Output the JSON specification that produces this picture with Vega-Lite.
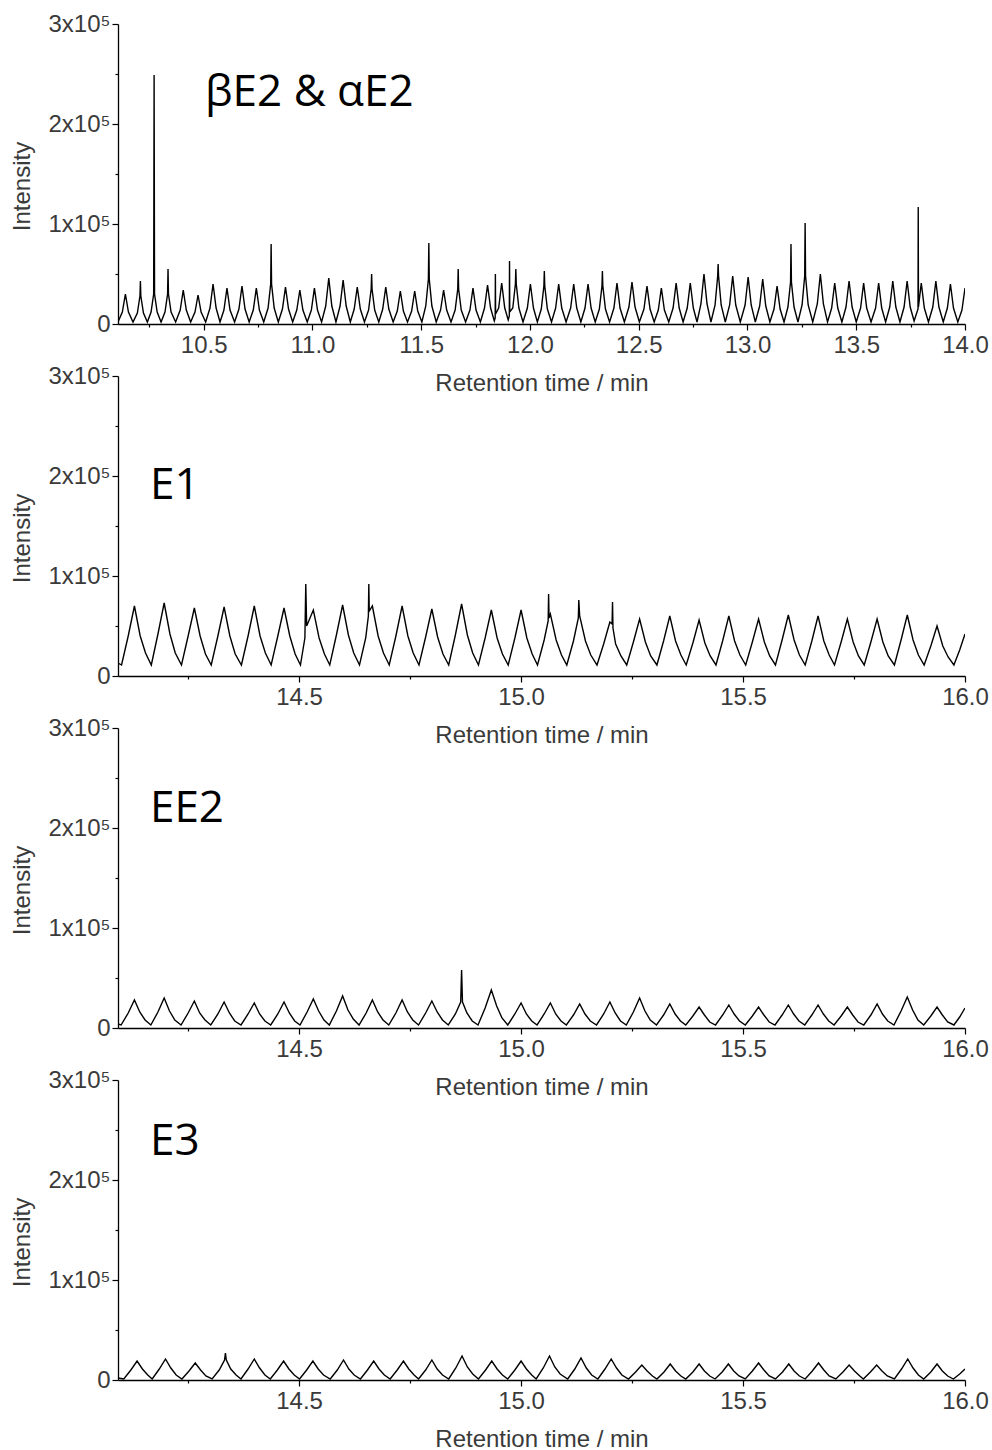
{
"$schema":"https://vega.github.io/schema/vega-lite/v6.json",
"background":"white",
"padding":{"left":10,"top":12,"right":5,"bottom":0},
"bounds":"flush",
"spacing":52,
"config":{"view":{"stroke":null},"axis":{"grid":false,"domainColor":"black","domainWidth":1.3,"tickColor":"black","tickWidth":1.2,"labelFont":"Liberation Sans","labelFontSize":24,"labelColor":"#3a3a3a","titleFont":"Liberation Sans","titleFontSize":24,"titleFontWeight":"normal","titleColor":"#3a3a3a"}},
"datasets":{
"p1":[{"t":10.106,"k":2},{"t":10.126,"k":12},{"t":10.140,"k":30},{"t":10.154,"k":12},{"t":10.175,"k":2},
{"t":10.195,"k":11},{"t":10.207,"k":28},{"t":10.209,"k":43},{"t":10.211,"k":28},{"t":10.223,"k":11},{"t":10.241,"k":2},
{"t":10.258,"k":12},{"t":10.270,"k":30},{"t":10.272,"k":249},{"t":10.274,"k":30},{"t":10.286,"k":12},{"t":10.304,"k":2},
{"t":10.322,"k":12},{"t":10.334,"k":30},{"t":10.336,"k":55},{"t":10.338,"k":30},{"t":10.350,"k":12},{"t":10.371,"k":2},
{"t":10.392,"k":14},{"t":10.406,"k":34},{"t":10.420,"k":14},{"t":10.440,"k":2},
{"t":10.460,"k":12},{"t":10.474,"k":29},{"t":10.488,"k":12},{"t":10.509,"k":2},
{"t":10.529,"k":16},{"t":10.543,"k":40},{"t":10.557,"k":16},{"t":10.575,"k":2},
{"t":10.593,"k":14},{"t":10.607,"k":36},{"t":10.621,"k":14},{"t":10.642,"k":2},
{"t":10.662,"k":15},{"t":10.676,"k":38},{"t":10.690,"k":15},{"t":10.709,"k":2},
{"t":10.728,"k":14},{"t":10.742,"k":36},{"t":10.756,"k":14},{"t":10.776,"k":2},
{"t":10.796,"k":16},{"t":10.808,"k":40},{"t":10.810,"k":80},{"t":10.812,"k":40},{"t":10.824,"k":16},{"t":10.843,"k":2},
{"t":10.862,"k":15},{"t":10.876,"k":37},{"t":10.890,"k":15},{"t":10.909,"k":2},
{"t":10.928,"k":14},{"t":10.942,"k":34},{"t":10.956,"k":14},{"t":10.976,"k":2},
{"t":10.995,"k":14},{"t":11.009,"k":36},{"t":11.023,"k":14},{"t":11.042,"k":2},
{"t":11.061,"k":18},{"t":11.075,"k":46},{"t":11.089,"k":18},{"t":11.108,"k":2},
{"t":11.127,"k":18},{"t":11.141,"k":44},{"t":11.155,"k":18},{"t":11.174,"k":2},
{"t":11.192,"k":15},{"t":11.206,"k":37},{"t":11.220,"k":15},{"t":11.239,"k":2},
{"t":11.258,"k":14},{"t":11.270,"k":35},{"t":11.272,"k":50},{"t":11.274,"k":35},{"t":11.286,"k":14},{"t":11.305,"k":2},
{"t":11.323,"k":15},{"t":11.337,"k":37},{"t":11.351,"k":15},{"t":11.371,"k":2},
{"t":11.390,"k":13},{"t":11.404,"k":33},{"t":11.418,"k":13},{"t":11.437,"k":2},
{"t":11.456,"k":13},{"t":11.470,"k":33},{"t":11.484,"k":13},{"t":11.503,"k":2},
{"t":11.521,"k":18},{"t":11.533,"k":45},{"t":11.535,"k":81},{"t":11.537,"k":45},{"t":11.549,"k":18},{"t":11.569,"k":2},
{"t":11.589,"k":14},{"t":11.603,"k":34},{"t":11.617,"k":14},{"t":11.637,"k":2},
{"t":11.656,"k":14},{"t":11.668,"k":35},{"t":11.670,"k":55},{"t":11.672,"k":35},{"t":11.684,"k":14},{"t":11.704,"k":2},
{"t":11.724,"k":14},{"t":11.738,"k":36},{"t":11.752,"k":14},{"t":11.772,"k":2},
{"t":11.791,"k":16},{"t":11.805,"k":39},{"t":11.819,"k":16},{"t":11.836,"k":3},
{"t":11.840,"k":6},{"t":11.841,"k":50},{"t":11.842,"k":10},
{"t":11.856,"k":16},{"t":11.870,"k":41},{"t":11.884,"k":16},{"t":11.900,"k":4},
{"t":11.905,"k":8},{"t":11.906,"k":63},{"t":11.907,"k":12},
{"t":11.921,"k":16},{"t":11.933,"k":40},{"t":11.935,"k":55},{"t":11.937,"k":40},{"t":11.949,"k":16},{"t":11.968,"k":2},
{"t":11.988,"k":16},{"t":12.002,"k":40},{"t":12.016,"k":16},{"t":12.034,"k":2},
{"t":12.052,"k":15},{"t":12.064,"k":38},{"t":12.066,"k":53},{"t":12.068,"k":38},{"t":12.080,"k":15},{"t":12.099,"k":2},
{"t":12.118,"k":16},{"t":12.132,"k":40},{"t":12.146,"k":16},{"t":12.166,"k":2},
{"t":12.187,"k":16},{"t":12.201,"k":40},{"t":12.215,"k":16},{"t":12.234,"k":2},
{"t":12.253,"k":16},{"t":12.267,"k":40},{"t":12.281,"k":16},{"t":12.300,"k":2},
{"t":12.319,"k":15},{"t":12.331,"k":38},{"t":12.333,"k":53},{"t":12.335,"k":38},{"t":12.347,"k":15},{"t":12.366,"k":2},
{"t":12.386,"k":16},{"t":12.400,"k":41},{"t":12.414,"k":16},{"t":12.434,"k":2},
{"t":12.455,"k":17},{"t":12.469,"k":42},{"t":12.483,"k":17},{"t":12.503,"k":2},
{"t":12.524,"k":15},{"t":12.538,"k":38},{"t":12.552,"k":15},{"t":12.571,"k":2},
{"t":12.590,"k":14},{"t":12.604,"k":36},{"t":12.618,"k":14},{"t":12.638,"k":2},
{"t":12.658,"k":16},{"t":12.672,"k":41},{"t":12.686,"k":16},{"t":12.704,"k":2},
{"t":12.723,"k":16},{"t":12.737,"k":41},{"t":12.751,"k":16},{"t":12.768,"k":2},
{"t":12.786,"k":20},{"t":12.800,"k":50},{"t":12.814,"k":20},{"t":12.832,"k":2},
{"t":12.851,"k":19},{"t":12.863,"k":48},{"t":12.865,"k":60},{"t":12.867,"k":48},{"t":12.879,"k":19},{"t":12.898,"k":2},
{"t":12.918,"k":19},{"t":12.932,"k":48},{"t":12.946,"k":19},{"t":12.967,"k":2},
{"t":12.989,"k":19},{"t":13.003,"k":47},{"t":13.017,"k":19},{"t":13.036,"k":2},
{"t":13.056,"k":18},{"t":13.070,"k":45},{"t":13.084,"k":18},{"t":13.103,"k":2},
{"t":13.122,"k":15},{"t":13.136,"k":38},{"t":13.150,"k":15},{"t":13.168,"k":2},
{"t":13.186,"k":17},{"t":13.198,"k":42},{"t":13.200,"k":80},{"t":13.202,"k":42},{"t":13.214,"k":17},{"t":13.232,"k":2},
{"t":13.251,"k":19},{"t":13.263,"k":48},{"t":13.265,"k":101},{"t":13.267,"k":48},{"t":13.279,"k":19},{"t":13.300,"k":2},
{"t":13.321,"k":20},{"t":13.335,"k":50},{"t":13.349,"k":20},{"t":13.368,"k":2},
{"t":13.387,"k":16},{"t":13.401,"k":41},{"t":13.415,"k":16},{"t":13.434,"k":2},
{"t":13.453,"k":17},{"t":13.467,"k":43},{"t":13.481,"k":17},{"t":13.500,"k":2},
{"t":13.520,"k":16},{"t":13.534,"k":41},{"t":13.548,"k":16},{"t":13.568,"k":2},
{"t":13.589,"k":16},{"t":13.603,"k":41},{"t":13.617,"k":16},{"t":13.635,"k":2},
{"t":13.654,"k":17},{"t":13.668,"k":43},{"t":13.682,"k":17},{"t":13.701,"k":2},
{"t":13.720,"k":17},{"t":13.734,"k":43},{"t":13.748,"k":17},{"t":13.766,"k":3},
{"t":13.784,"k":15},{"t":13.785,"k":117},{"t":13.786,"k":17},
{"t":13.799,"k":41},{"t":13.813,"k":16},{"t":13.832,"k":2},
{"t":13.852,"k":17},{"t":13.866,"k":43},{"t":13.880,"k":17},{"t":13.900,"k":2},
{"t":13.919,"k":16},{"t":13.933,"k":40},{"t":13.947,"k":16},{"t":13.967,"k":2},
{"t":13.986,"k":14},{"t":14.0,"k":36}],
"p2":[{"t":14.092,"k":13},{"t":14.100,"k":11},{"t":14.115,"k":40},{"t":14.129,"k":70},{"t":14.142,"k":40},{"t":14.154,"k":23},
{"t":14.167,"k":11},{"t":14.182,"k":42},{"t":14.196,"k":73},{"t":14.209,"k":42},{"t":14.221,"k":23},
{"t":14.235,"k":11},{"t":14.250,"k":40},{"t":14.264,"k":68},{"t":14.277,"k":40},{"t":14.289,"k":22},
{"t":14.302,"k":11},{"t":14.317,"k":40},{"t":14.331,"k":69},{"t":14.344,"k":40},{"t":14.356,"k":22},
{"t":14.370,"k":11},{"t":14.385,"k":40},{"t":14.399,"k":70},{"t":14.412,"k":40},{"t":14.424,"k":23},
{"t":14.437,"k":11},{"t":14.452,"k":40},{"t":14.466,"k":68},{"t":14.479,"k":40},{"t":14.491,"k":22},
{"t":14.503,"k":11},{"t":14.513,"k":38},{"t":14.515,"k":92},{"t":14.517,"k":50},{"t":14.532,"k":66},{"t":14.545,"k":38},{"t":14.557,"k":22},
{"t":14.569,"k":11},{"t":14.584,"k":41},{"t":14.598,"k":71},{"t":14.611,"k":41},{"t":14.623,"k":23},
{"t":14.636,"k":11},{"t":14.650,"k":38},{"t":14.656,"k":60},{"t":14.657,"k":92},{"t":14.658,"k":65},{"t":14.665,"k":70},{"t":14.678,"k":40},{"t":14.690,"k":23},
{"t":14.703,"k":11},{"t":14.718,"k":40},{"t":14.732,"k":70},{"t":14.745,"k":40},{"t":14.757,"k":23},
{"t":14.770,"k":11},{"t":14.785,"k":39},{"t":14.799,"k":67},{"t":14.812,"k":39},{"t":14.824,"k":22},
{"t":14.837,"k":11},{"t":14.852,"k":41},{"t":14.866,"k":72},{"t":14.879,"k":41},{"t":14.891,"k":23},
{"t":14.904,"k":11},{"t":14.919,"k":38},{"t":14.933,"k":66},{"t":14.946,"k":38},{"t":14.958,"k":22},
{"t":14.971,"k":11},{"t":14.986,"k":38},{"t":15.000,"k":66},{"t":15.013,"k":38},{"t":15.025,"k":22},
{"t":15.037,"k":11},{"t":15.052,"k":36},{"t":15.061,"k":55},{"t":15.062,"k":82},{"t":15.063,"k":58},{"t":15.066,"k":62},{"t":15.079,"k":36},{"t":15.091,"k":21},
{"t":15.103,"k":11},{"t":15.118,"k":35},{"t":15.129,"k":58},{"t":15.130,"k":76},{"t":15.132,"k":60},{"t":15.145,"k":35},{"t":15.157,"k":21},
{"t":15.171,"k":11},{"t":15.186,"k":32},{"t":15.200,"k":54},{"t":15.205,"k":52},{"t":15.206,"k":74},{"t":15.207,"k":48},{"t":15.213,"k":32},{"t":15.225,"k":20},
{"t":15.238,"k":11},{"t":15.253,"k":34},{"t":15.267,"k":57},{"t":15.280,"k":34},{"t":15.292,"k":20},
{"t":15.306,"k":11},{"t":15.321,"k":35},{"t":15.335,"k":60},{"t":15.348,"k":35},{"t":15.360,"k":21},
{"t":15.372,"k":11},{"t":15.387,"k":33},{"t":15.401,"k":56},{"t":15.414,"k":33},{"t":15.426,"k":20},
{"t":15.439,"k":11},{"t":15.454,"k":35},{"t":15.468,"k":60},{"t":15.481,"k":35},{"t":15.493,"k":21},
{"t":15.506,"k":11},{"t":15.521,"k":34},{"t":15.535,"k":57},{"t":15.548,"k":34},{"t":15.560,"k":20},
{"t":15.573,"k":11},{"t":15.588,"k":36},{"t":15.602,"k":61},{"t":15.615,"k":36},{"t":15.627,"k":21},
{"t":15.640,"k":11},{"t":15.655,"k":35},{"t":15.669,"k":60},{"t":15.682,"k":35},{"t":15.694,"k":21},
{"t":15.706,"k":11},{"t":15.721,"k":34},{"t":15.735,"k":57},{"t":15.748,"k":34},{"t":15.760,"k":20},
{"t":15.773,"k":11},{"t":15.788,"k":34},{"t":15.802,"k":57},{"t":15.815,"k":34},{"t":15.827,"k":20},
{"t":15.841,"k":11},{"t":15.856,"k":36},{"t":15.870,"k":61},{"t":15.883,"k":36},{"t":15.895,"k":21},
{"t":15.908,"k":11},{"t":15.923,"k":30},{"t":15.937,"k":50},{"t":15.950,"k":30},{"t":15.962,"k":19},
{"t":15.975,"k":11},{"t":15.988,"k":26},{"t":16.0,"k":42}],
"p3":[{"t":14.092,"k":4},{"t":14.099,"k":3},{"t":14.115,"k":15},{"t":14.129,"k":28},{"t":14.141,"k":16},{"t":14.153,"k":8},
{"t":14.166,"k":3},{"t":14.182,"k":16},{"t":14.196,"k":30},{"t":14.208,"k":17},{"t":14.220,"k":8},
{"t":14.234,"k":3},{"t":14.250,"k":15},{"t":14.264,"k":27},{"t":14.276,"k":15},{"t":14.288,"k":8},
{"t":14.301,"k":3},{"t":14.317,"k":14},{"t":14.331,"k":26},{"t":14.343,"k":15},{"t":14.355,"k":7},
{"t":14.369,"k":3},{"t":14.385,"k":14},{"t":14.399,"k":25},{"t":14.411,"k":14},{"t":14.423,"k":7},
{"t":14.436,"k":3},{"t":14.452,"k":14},{"t":14.466,"k":26},{"t":14.478,"k":15},{"t":14.490,"k":7},
{"t":14.502,"k":3},{"t":14.518,"k":16},{"t":14.532,"k":29},{"t":14.544,"k":17},{"t":14.556,"k":8},
{"t":14.568,"k":3},{"t":14.584,"k":17},{"t":14.598,"k":32},{"t":14.610,"k":18},{"t":14.622,"k":9},
{"t":14.635,"k":3},{"t":14.651,"k":15},{"t":14.665,"k":28},{"t":14.677,"k":16},{"t":14.689,"k":8},
{"t":14.702,"k":3},{"t":14.718,"k":15},{"t":14.732,"k":28},{"t":14.744,"k":16},{"t":14.756,"k":8},
{"t":14.769,"k":3},{"t":14.785,"k":15},{"t":14.799,"k":27},{"t":14.811,"k":16},{"t":14.823,"k":8},
{"t":14.836,"k":3},{"t":14.852,"k":14},{"t":14.864,"k":26},{"t":14.866,"k":58},{"t":14.868,"k":26},{"t":14.878,"k":15},{"t":14.890,"k":7},
{"t":14.903,"k":3},{"t":14.919,"k":20},{"t":14.933,"k":38},{"t":14.945,"k":22},{"t":14.957,"k":10},
{"t":14.970,"k":3},{"t":14.986,"k":14},{"t":15.000,"k":25},{"t":15.012,"k":14},{"t":15.024,"k":7},
{"t":15.036,"k":3},{"t":15.052,"k":14},{"t":15.066,"k":25},{"t":15.078,"k":14},{"t":15.090,"k":7},
{"t":15.102,"k":3},{"t":15.118,"k":13},{"t":15.132,"k":24},{"t":15.144,"k":14},{"t":15.156,"k":7},
{"t":15.170,"k":3},{"t":15.186,"k":14},{"t":15.200,"k":26},{"t":15.212,"k":15},{"t":15.224,"k":7},
{"t":15.237,"k":3},{"t":15.253,"k":16},{"t":15.267,"k":30},{"t":15.279,"k":17},{"t":15.291,"k":8},
{"t":15.305,"k":3},{"t":15.321,"k":13},{"t":15.335,"k":24},{"t":15.347,"k":14},{"t":15.359,"k":7},
{"t":15.371,"k":3},{"t":15.387,"k":12},{"t":15.401,"k":21},{"t":15.413,"k":13},{"t":15.425,"k":6},
{"t":15.438,"k":3},{"t":15.454,"k":13},{"t":15.468,"k":23},{"t":15.480,"k":14},{"t":15.492,"k":7},
{"t":15.505,"k":3},{"t":15.521,"k":12},{"t":15.535,"k":21},{"t":15.547,"k":13},{"t":15.559,"k":6},
{"t":15.572,"k":3},{"t":15.588,"k":13},{"t":15.602,"k":23},{"t":15.614,"k":14},{"t":15.626,"k":7},
{"t":15.639,"k":3},{"t":15.655,"k":13},{"t":15.669,"k":23},{"t":15.681,"k":14},{"t":15.693,"k":7},
{"t":15.705,"k":3},{"t":15.721,"k":12},{"t":15.735,"k":21},{"t":15.747,"k":13},{"t":15.759,"k":6},
{"t":15.772,"k":3},{"t":15.788,"k":13},{"t":15.802,"k":24},{"t":15.814,"k":14},{"t":15.826,"k":7},
{"t":15.840,"k":3},{"t":15.856,"k":17},{"t":15.870,"k":31},{"t":15.882,"k":18},{"t":15.894,"k":8},
{"t":15.907,"k":3},{"t":15.923,"k":12},{"t":15.937,"k":21},{"t":15.949,"k":13},{"t":15.961,"k":6},
{"t":15.975,"k":3},{"t":15.988,"k":11},{"t":16.0,"k":20}],
"p4":[{"t":14.092,"k":2},{"t":14.105,"k":1},{"t":14.121,"k":10},{"t":14.135,"k":19},{"t":14.147,"k":11},{"t":14.159,"k":5},
{"t":14.169,"k":1},{"t":14.185,"k":11},{"t":14.199,"k":21},{"t":14.211,"k":12},{"t":14.223,"k":5},
{"t":14.236,"k":1},{"t":14.252,"k":9},{"t":14.266,"k":17},{"t":14.278,"k":10},{"t":14.290,"k":4},
{"t":14.304,"k":1},{"t":14.320,"k":10},{"t":14.332,"k":20},{"t":14.334,"k":27},{"t":14.336,"k":20},{"t":14.346,"k":11},{"t":14.358,"k":5},
{"t":14.369,"k":1},{"t":14.385,"k":11},{"t":14.399,"k":21},{"t":14.411,"k":12},{"t":14.423,"k":5},
{"t":14.435,"k":1},{"t":14.451,"k":10},{"t":14.465,"k":19},{"t":14.477,"k":11},{"t":14.489,"k":5},
{"t":14.501,"k":1},{"t":14.517,"k":10},{"t":14.531,"k":19},{"t":14.543,"k":11},{"t":14.555,"k":5},
{"t":14.570,"k":1},{"t":14.586,"k":10},{"t":14.600,"k":20},{"t":14.612,"k":11},{"t":14.624,"k":5},
{"t":14.638,"k":1},{"t":14.654,"k":10},{"t":14.668,"k":19},{"t":14.680,"k":11},{"t":14.692,"k":5},
{"t":14.705,"k":1},{"t":14.721,"k":10},{"t":14.735,"k":19},{"t":14.747,"k":11},{"t":14.759,"k":5},
{"t":14.769,"k":1},{"t":14.785,"k":10},{"t":14.799,"k":20},{"t":14.811,"k":11},{"t":14.823,"k":5},
{"t":14.837,"k":1},{"t":14.853,"k":12},{"t":14.867,"k":24},{"t":14.879,"k":13},{"t":14.891,"k":6},
{"t":14.904,"k":1},{"t":14.920,"k":10},{"t":14.934,"k":19},{"t":14.946,"k":11},{"t":14.958,"k":5},
{"t":14.970,"k":1},{"t":14.986,"k":10},{"t":15.000,"k":19},{"t":15.012,"k":11},{"t":15.024,"k":5},
{"t":15.034,"k":1},{"t":15.050,"k":12},{"t":15.064,"k":24},{"t":15.076,"k":13},{"t":15.088,"k":6},
{"t":15.105,"k":1},{"t":15.121,"k":11},{"t":15.135,"k":22},{"t":15.147,"k":12},{"t":15.159,"k":5},
{"t":15.173,"k":1},{"t":15.189,"k":11},{"t":15.203,"k":21},{"t":15.215,"k":12},{"t":15.227,"k":5},
{"t":15.242,"k":1},{"t":15.258,"k":8},{"t":15.272,"k":15},{"t":15.284,"k":9},{"t":15.296,"k":4},
{"t":15.306,"k":1},{"t":15.322,"k":8},{"t":15.336,"k":16},{"t":15.348,"k":9},{"t":15.360,"k":4},
{"t":15.371,"k":1},{"t":15.387,"k":8},{"t":15.401,"k":16},{"t":15.413,"k":9},{"t":15.425,"k":4},
{"t":15.437,"k":1},{"t":15.453,"k":8},{"t":15.467,"k":16},{"t":15.479,"k":9},{"t":15.491,"k":4},
{"t":15.505,"k":1},{"t":15.521,"k":9},{"t":15.535,"k":17},{"t":15.547,"k":10},{"t":15.559,"k":4},
{"t":15.573,"k":1},{"t":15.589,"k":8},{"t":15.603,"k":16},{"t":15.615,"k":9},{"t":15.627,"k":4},
{"t":15.640,"k":1},{"t":15.656,"k":9},{"t":15.670,"k":17},{"t":15.682,"k":10},{"t":15.694,"k":4},
{"t":15.709,"k":1},{"t":15.725,"k":8},{"t":15.739,"k":15},{"t":15.751,"k":9},{"t":15.763,"k":4},
{"t":15.771,"k":1},{"t":15.787,"k":8},{"t":15.801,"k":15},{"t":15.813,"k":9},{"t":15.825,"k":4},
{"t":15.841,"k":1},{"t":15.857,"k":11},{"t":15.871,"k":21},{"t":15.883,"k":12},{"t":15.895,"k":5},
{"t":15.907,"k":1},{"t":15.923,"k":8},{"t":15.937,"k":16},{"t":15.949,"k":9},{"t":15.961,"k":4},
{"t":15.974,"k":1},{"t":15.988,"k":6},{"t":16.0,"k":11}]
},
"vconcat":[
{"width":847,"height":300,"layer":[
 {"data":{"name":"p1"},"mark":{"type":"line","color":"black","strokeWidth":1.4,"clip":true},
  "encoding":{"x":{"field":"t","type":"quantitative","scale":{"domain":[10.106,14.0],"nice":false,"zero":false},
    "axis":{"title":"Retention time / min","values":[10.25,10.5,10.75,11,11.25,11.5,11.75,12,12.25,12.5,12.75,13,13.25,13.5,13.75,14],"labelExpr":"(datum.value*4)%2==0 ? format(datum.value,'.1f') : ''","tickSize":{"condition":{"test":"(datum.value*4)%2!=0","value":3},"value":6},"labelPadding":3,"titlePadding":14,"labelFlush":false,"labelOverlap":false}},
   "y":{"field":"k","type":"quantitative","scale":{"domain":[0,300],"nice":false},
    "axis":{"title":"Intensity","titleY":162,"values":[0,50,100,150,200,250,300],"labelExpr":"datum.value%100==0 ? (datum.value==0 ? '0' : (datum.value/100)+'x10⁵') : ''","tickSize":{"condition":{"test":"datum.value%100!=0","value":3},"value":6},"labelPadding":2,"titlePadding":14,"labelOverlap":false}}}},
 {"data":{"values":[{"t":10.506,"k":218,"label":"βE2 & αE2"}]},"mark":{"type":"text","align":"left","baseline":"alphabetic","font":"Open Sans","fontSize":44,"color":"black"},
  "encoding":{"x":{"field":"t","type":"quantitative"},"y":{"field":"k","type":"quantitative"},"text":{"field":"label"}}}
]},
{"width":847,"height":300,"layer":[
 {"data":{"name":"p2"},"mark":{"type":"line","color":"black","strokeWidth":1.4,"clip":true},
  "encoding":{"x":{"field":"t","type":"quantitative","scale":{"domain":[14.092,16.0],"nice":false,"zero":false},
    "axis":{"title":"Retention time / min","values":[14.25,14.5,14.75,15,15.25,15.5,15.75,16],"labelExpr":"(datum.value*4)%2==0 ? format(datum.value,'.1f') : ''","tickSize":{"condition":{"test":"(datum.value*4)%2!=0","value":3},"value":6},"labelPadding":3,"titlePadding":14,"labelFlush":false,"labelOverlap":false}},
   "y":{"field":"k","type":"quantitative","scale":{"domain":[0,300],"nice":false},
    "axis":{"title":"Intensity","titleY":162,"values":[0,50,100,150,200,250,300],"labelExpr":"datum.value%100==0 ? (datum.value==0 ? '0' : (datum.value/100)+'x10⁵') : ''","tickSize":{"condition":{"test":"datum.value%100!=0","value":3},"value":6},"labelPadding":2,"titlePadding":14,"labelOverlap":false}}}},
 {"data":{"values":[{"t":14.164,"k":177,"label":"E1"}]},"mark":{"type":"text","align":"left","baseline":"alphabetic","font":"Open Sans","fontSize":44,"color":"black"},
  "encoding":{"x":{"field":"t","type":"quantitative"},"y":{"field":"k","type":"quantitative"},"text":{"field":"label"}}}
]},
{"width":847,"height":300,"layer":[
 {"data":{"name":"p3"},"mark":{"type":"line","color":"black","strokeWidth":1.4,"clip":true},
  "encoding":{"x":{"field":"t","type":"quantitative","scale":{"domain":[14.092,16.0],"nice":false,"zero":false},
    "axis":{"title":"Retention time / min","values":[14.25,14.5,14.75,15,15.25,15.5,15.75,16],"labelExpr":"(datum.value*4)%2==0 ? format(datum.value,'.1f') : ''","tickSize":{"condition":{"test":"(datum.value*4)%2!=0","value":3},"value":6},"labelPadding":3,"titlePadding":14,"labelFlush":false,"labelOverlap":false}},
   "y":{"field":"k","type":"quantitative","scale":{"domain":[0,300],"nice":false},
    "axis":{"title":"Intensity","titleY":162,"values":[0,50,100,150,200,250,300],"labelExpr":"datum.value%100==0 ? (datum.value==0 ? '0' : (datum.value/100)+'x10⁵') : ''","tickSize":{"condition":{"test":"datum.value%100!=0","value":3},"value":6},"labelPadding":2,"titlePadding":14,"labelOverlap":false}}}},
 {"data":{"values":[{"t":14.164,"k":206,"label":"EE2"}]},"mark":{"type":"text","align":"left","baseline":"alphabetic","font":"Open Sans","fontSize":44,"color":"black"},
  "encoding":{"x":{"field":"t","type":"quantitative"},"y":{"field":"k","type":"quantitative"},"text":{"field":"label"}}}
]},
{"width":847,"height":300,"layer":[
 {"data":{"name":"p4"},"mark":{"type":"line","color":"black","strokeWidth":1.4,"clip":true},
  "encoding":{"x":{"field":"t","type":"quantitative","scale":{"domain":[14.092,16.0],"nice":false,"zero":false},
    "axis":{"title":"Retention time / min","values":[14.25,14.5,14.75,15,15.25,15.5,15.75,16],"labelExpr":"(datum.value*4)%2==0 ? format(datum.value,'.1f') : ''","tickSize":{"condition":{"test":"(datum.value*4)%2!=0","value":3},"value":6},"labelPadding":3,"titlePadding":14,"labelFlush":false,"labelOverlap":false}},
   "y":{"field":"k","type":"quantitative","scale":{"domain":[0,300],"nice":false},
    "axis":{"title":"Intensity","titleY":162,"values":[0,50,100,150,200,250,300],"labelExpr":"datum.value%100==0 ? (datum.value==0 ? '0' : (datum.value/100)+'x10⁵') : ''","tickSize":{"condition":{"test":"datum.value%100!=0","value":3},"value":6},"labelPadding":2,"titlePadding":14,"labelOverlap":false}}}},
 {"data":{"values":[{"t":14.164,"k":225,"label":"E3"}]},"mark":{"type":"text","align":"left","baseline":"alphabetic","font":"Open Sans","fontSize":44,"color":"black"},
  "encoding":{"x":{"field":"t","type":"quantitative"},"y":{"field":"k","type":"quantitative"},"text":{"field":"label"}}}
]}
]
}
